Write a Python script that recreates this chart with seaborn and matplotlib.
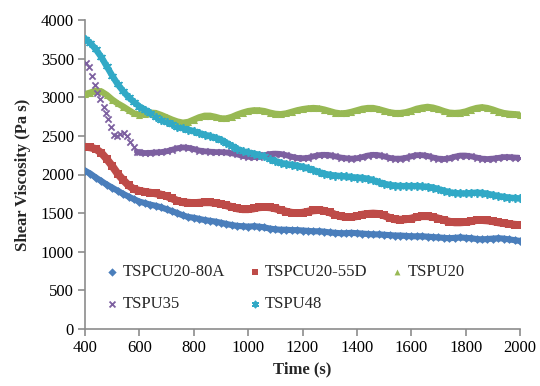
import numpy as np
import pandas as pd
import matplotlib
matplotlib.use("Agg")
import matplotlib.pyplot as plt
import seaborn as sns

time = list(range(400, 2001, 20))

tspcu20_80a = [2050, 2010, 1960, 1915, 1870, 1830, 1790, 1750, 1715, 1680,
               1650, 1630, 1610, 1595, 1575, 1550, 1525, 1500, 1470, 1450,
               1440, 1425, 1410, 1400, 1390, 1375, 1360, 1345, 1335, 1330,
               1325, 1330, 1325, 1315, 1300, 1290, 1285, 1285, 1280, 1280,
               1275, 1270, 1265, 1265, 1260, 1250, 1245, 1240, 1240, 1245,
               1240, 1235, 1230, 1225, 1225, 1220, 1215, 1210, 1210, 1205,
               1200, 1200, 1200, 1195, 1190, 1185, 1180, 1175, 1180, 1185,
               1180, 1175, 1165, 1160, 1165, 1170, 1175, 1170, 1160, 1150,
               1140]

tspcu20_55d = [2360, 2350, 2330, 2280, 2200, 2110, 2010, 1930, 1860, 1810,
               1790, 1775, 1765, 1755, 1740, 1720, 1690, 1660, 1640, 1635,
               1630, 1635, 1640, 1640, 1630, 1620, 1600, 1580, 1560, 1550,
               1550, 1560, 1575, 1580, 1575, 1560, 1540, 1520, 1505, 1500,
               1505, 1520, 1535, 1540, 1530, 1510, 1480, 1460, 1450, 1450,
               1460, 1480, 1490, 1495, 1490, 1470, 1440, 1420, 1415, 1420,
               1430, 1450, 1460, 1460, 1450, 1430, 1410, 1390, 1380, 1380,
               1385, 1395, 1410, 1410, 1405, 1395, 1380, 1370, 1360, 1350,
               1345]

tspu20 = [3040, 3060, 3085, 3075, 3030, 2970, 2920, 2880, 2835, 2790,
          2775, 2785, 2800, 2795, 2770, 2740, 2710, 2685, 2670, 2680,
          2710, 2740, 2760, 2760, 2745, 2725, 2725, 2745, 2775, 2800,
          2820, 2830, 2830, 2820, 2800, 2785, 2780, 2790, 2810, 2830,
          2845, 2855, 2860, 2855, 2840, 2820, 2800, 2790, 2795, 2810,
          2830, 2850, 2860, 2860, 2845, 2825, 2805, 2795, 2795, 2805,
          2825, 2850, 2865, 2875, 2865, 2845, 2820, 2800, 2795, 2800,
          2815, 2840, 2860, 2870, 2860, 2840, 2815, 2795, 2785, 2780,
          2775]

# TSPU35: individually visible marks during the fast drop, then the 20 s grid
tspu35_time = [404, 413, 426, 436, 444, 456, 469, 477, 485, 497, 505, 518,
               530, 542, 554, 567, 579, 591] + list(range(600, 2001, 20))
tspu35 = [3440, 3396, 3275, 3158, 3060, 2974, 2870, 2792, 2715, 2611, 2511, 2498,
          2524, 2533, 2498, 2425, 2360, 2295,
          2285, 2278, 2280, 2285, 2290, 2300, 2320, 2340, 2350, 2345,
          2330, 2310, 2300, 2295, 2290, 2290, 2285, 2275, 2260, 2240,
          2230, 2225, 2230, 2250, 2265, 2270, 2265, 2250, 2230, 2215,
          2210, 2215, 2235, 2250, 2255, 2250, 2235, 2220, 2210, 2205,
          2210, 2225, 2245, 2255, 2250, 2235, 2215, 2205, 2205, 2215,
          2235, 2250, 2250, 2240, 2220, 2205, 2200, 2210, 2230, 2245,
          2245, 2235, 2220, 2205, 2200, 2205, 2215, 2225, 2225, 2220,
          2215]

tspu48 = [3760, 3700, 3620, 3520, 3400, 3280, 3170, 3080, 3000, 2940,
          2880, 2840, 2790, 2745, 2710, 2680, 2650, 2615, 2600, 2580,
          2560, 2535, 2515, 2495, 2475, 2450, 2410, 2370, 2330, 2300,
          2285, 2270, 2255, 2235, 2205, 2175, 2150, 2135, 2125, 2115,
          2100, 2080, 2055, 2030, 2010, 1995, 1985, 1980, 1975, 1965,
          1960, 1955, 1945, 1925, 1900, 1880, 1865, 1855, 1850, 1850,
          1850, 1850, 1845, 1840, 1830, 1810, 1790, 1770, 1760, 1755,
          1755, 1760, 1765, 1760, 1750, 1735, 1720, 1710, 1700, 1695,
          1690]

series_names = ["TSPCU20-80A", "TSPCU20-55D", "TSPU20", "TSPU35", "TSPU48"]
series_times = [time, time, time, tspu35_time, time]
series_values = [tspcu20_80a, tspcu20_55d, tspu20, tspu35, tspu48]

colors = {"TSPCU20-80A": "#4A7EBB", "TSPCU20-55D": "#BE4B48", "TSPU20": "#98B954",
          "TSPU35": "#7D60A0", "TSPU48": "#31A9C6"}
markers = {"TSPCU20-80A": "D", "TSPCU20-55D": "s", "TSPU20": "^",
           "TSPU35": "x", "TSPU48": (6, 2, 0)}
sizes = {"TSPCU20-80A": 20, "TSPCU20-55D": 30, "TSPU20": 26, "TSPU35": 20, "TSPU48": 28}
bandw = {"TSPCU20-80A": 4.4, "TSPCU20-55D": 5.6, "TSPU20": 4.6, "TSPU35": 4.2, "TSPU48": 4.6}
# point from which the dense band is continuous (earlier points show as separate marks)
band_start = {"TSPCU20-80A": 400, "TSPCU20-55D": 400, "TSPU20": 400, "TSPU35": 591, "TSPU48": 400}

df = pd.concat([pd.DataFrame({"Time": t, "Viscosity": v, "Series": n})
                for n, t, v in zip(series_names, series_times, series_values)],
               ignore_index=True)

sns.set_theme(style="white")
plt.rcParams["font.family"] = ["Liberation Serif", "DejaVu Serif"]

fig = plt.figure(figsize=(5.4, 3.86), dpi=100)
ax = fig.add_axes([85 / 540, 1 - 329 / 386, 435 / 540, 309 / 386])

handles = {}
for n in series_names:
    sub = df[df["Series"] == n]
    band = sub[sub["Time"] >= band_start[n]]
    sns.lineplot(data=band, x="Time", y="Viscosity", ax=ax, color=colors[n],
                 linewidth=bandw[n], legend=False, zorder=2,
                 solid_capstyle="round", solid_joinstyle="round")
    lw = 1.3 if n in ("TSPU35", "TSPU48") else 0
    sns.scatterplot(data=sub, x="Time", y="Viscosity", ax=ax, color=colors[n],
                    marker=markers[n], s=sizes[n], linewidth=lw,
                    edgecolor=colors[n], legend=False, zorder=3)
    handles[n] = ax.scatter([], [], color=colors[n], marker=markers[n], s=18,
                            linewidths=lw, edgecolors=colors[n])

ax.set_xlim(400, 2000)
ax.set_ylim(0, 4000)
ax.set_xticks(range(400, 2001, 200))
ax.set_yticks(range(0, 4001, 500))
for s in ("top", "right"):
    ax.spines[s].set_visible(False)
for s in ("left", "bottom"):
    ax.spines[s].set_color("#8C8C8C")
    ax.spines[s].set_linewidth(1.2)
ax.tick_params(axis="both", which="major", direction="out", length=5, width=1.2,
               color="#8C8C8C", labelsize=12, labelcolor="black", pad=3)
ax.tick_params(axis="x", bottom=True)
ax.tick_params(axis="y", left=True)

ax.set_xlabel("Time (s)", fontsize=12, fontweight="bold", labelpad=4)
ax.set_ylabel("Shear Viscosity (Pa s)", fontsize=12, fontweight="bold", labelpad=7)

order = ["TSPCU20-80A", "TSPU35", "TSPCU20-55D", "TSPU48", "TSPU20"]
ax.legend([handles[n] for n in order], order, ncol=3, loc="upper left",
          bbox_to_anchor=(0.017, 0.247), frameon=False, fontsize=12,
          handletextpad=0.1, columnspacing=1.3, labelspacing=0.95,
          handlelength=1.0, borderpad=0.2)

fig.savefig("out.png", dpi=100)
